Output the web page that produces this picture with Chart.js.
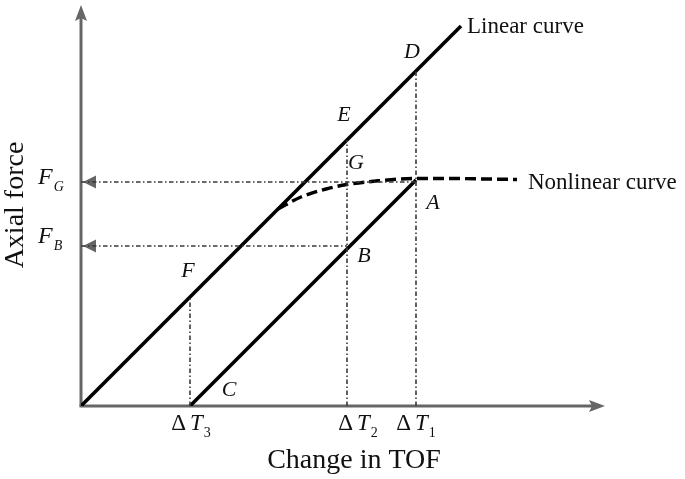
<!DOCTYPE html>
<html><head><meta charset="utf-8">
<script src="https://cdn.jsdelivr.net/npm/chart.js@4.4.0/dist/chart.umd.min.js"></script>
<style>html,body{margin:0;padding:0;background:#fff;}canvas{display:block;}</style>
</head><body>
<canvas id="c" width="685" height="479"></canvas>
<script>
// ---- data ----
const tickLabels = ['3', '2', '1'];          // subscripts of ΔT
const tickValues = [10.9, 26.6, 33.5];       // ΔT3, ΔT2, ΔT1
const forceLabels = ['G', 'B'];              // subscripts of F
const forceValues = [22.4, 16.0];            // F_G, F_B
const linearX = [0, 38];
const linearY = [0, 38];
const shiftedX = [10.9, 33.5];
const shiftedY = [0, 22.6];
const nonlinearX = [19.7, 22.0, 24.5, 26.6, 29.5, 33.5, 37.0, 40.5, 43.6];
const nonlinearY = [19.7, 20.9, 21.7, 22.15, 22.5, 22.75, 22.75, 22.7, 22.65];
const pointLabels = ['D', 'E', 'G', 'A', 'B', 'F', 'C'];
const pointX = [33.5, 26.6, 26.6, 33.5, 26.6, 10.9, 10.9];
const pointY = [33.5, 26.6, 22.4, 22.6, 16.0, 10.9, 0];
const xMax = 52.4, yMax = 40.1;

const zip = (xs, ys) => xs.map((x, i) => ({x, y: ys[i]}));
const guideColor = '#3a3a3a';
const dashDot = [4.5, 2.5, 1.5, 2.5];
const guides = [];
tickValues.forEach((t, i) => {
  guides.push({data: [{x: t, y: 0}, {x: t, y: linearY[1] * t / linearX[1]}], borderColor: guideColor, borderWidth: 1.6, borderDash: dashDot, pointRadius: 0, showLine: true});
});
forceValues.forEach((f, i) => {
  const xEnd = i === 0 ? tickValues[2] : tickValues[1];
  guides.push({data: [{x: 0, y: f}, {x: xEnd, y: f}], borderColor: guideColor, borderWidth: 1.6, borderDash: dashDot, pointRadius: 0, showLine: true});
});

const serif = '"Liberation Serif", "Times New Roman", serif';

function drawParts(ctx, parts, x, y, align) {
  let total = 0;
  parts.forEach(p => { ctx.font = p.font; p.w = ctx.measureText(p.t).width; total += p.w + (p.gap || 0); });
  let cx = align === 'center' ? x - total / 2 : (align === 'right' ? x - total : x);
  ctx.textBaseline = 'middle'; ctx.textAlign = 'left';
  parts.forEach(p => { ctx.font = p.font; ctx.fillText(p.t, cx, y + (p.dy || 0)); cx += p.w + (p.gap || 0); });
}

const decor = {
  id: 'decor',
  beforeDatasetsDraw(chart) {
    const ctx = chart.ctx, xs = chart.scales.x, ys = chart.scales.y;
    const x0 = xs.getPixelForValue(0), y0 = ys.getPixelForValue(0);
    const xe = xs.getPixelForValue(xMax), ye = ys.getPixelForValue(yMax);
    ctx.save();
    ctx.strokeStyle = '#666'; ctx.fillStyle = '#666'; ctx.lineWidth = 3;
    ctx.beginPath(); ctx.moveTo(x0, y0); ctx.lineTo(x0, ye + 10); ctx.stroke();
    ctx.beginPath(); ctx.moveTo(x0 - 1.5, y0); ctx.lineTo(xe - 10, y0); ctx.stroke();
    ctx.beginPath(); ctx.moveTo(x0, ye); ctx.lineTo(x0 - 6, ye + 16); ctx.lineTo(x0, ye + 13); ctx.lineTo(x0 + 6, ye + 16); ctx.closePath(); ctx.fill();
    ctx.beginPath(); ctx.moveTo(xe, y0); ctx.lineTo(xe - 16, y0 - 6); ctx.lineTo(xe - 13, y0); ctx.lineTo(xe - 16, y0 + 6); ctx.closePath(); ctx.fill();
    forceValues.forEach(f => {
      const py = ys.getPixelForValue(f);
      ctx.beginPath(); ctx.moveTo(x0 + 2, py); ctx.lineTo(x0 + 15, py - 6.5); ctx.lineTo(x0 + 15, py + 6.5); ctx.closePath(); ctx.fill();
    });
    ctx.restore();
  },
  afterDraw(chart) {
    const ctx = chart.ctx, xs = chart.scales.x, ys = chart.scales.y;
    ctx.save();
    ctx.fillStyle = '#111';
    const tickOffs = [1, 11, 0];
    tickValues.forEach((t, i) => {
      const px = xs.getPixelForValue(t) + tickOffs[i];
      drawParts(ctx, [
        {t: 'Δ', font: '23px ' + serif, gap: 4},
        {t: 'T', font: 'italic 23px ' + serif, gap: 1},
        {t: tickLabels[i], font: '14px ' + serif, dy: 9}
      ], px, 424, 'center');
    });
    const fOffs = [-4, -9];
    forceValues.forEach((f, i) => {
      const py = ys.getPixelForValue(f);
      drawParts(ctx, [
        {t: 'F', font: 'italic 24px ' + serif, gap: 1},
        {t: forceLabels[i], font: 'italic 14px ' + serif, dy: 9}
      ], 38, py + fOffs[i], 'left');
    });
    const offs = [[-4, -19], [-3, -25], [9, -19], [17, 23], [17, 10], [-2, -26], [39, -16]];
    pointLabels.forEach((l, i) => {
      const px = xs.getPixelForValue(pointX[i]) + offs[i][0];
      const py = ys.getPixelForValue(pointY[i]) + offs[i][1];
      ctx.font = 'italic 22px ' + serif; ctx.textAlign = 'center'; ctx.textBaseline = 'middle';
      ctx.fillText(l, px, py);
    });
    ctx.font = '23px ' + serif; ctx.textAlign = 'left'; ctx.textBaseline = 'middle';
    ctx.fillText('Linear curve', xs.getPixelForValue(linearX[1]) + 6, ys.getPixelForValue(linearY[1]) + 1);
    const nl = nonlinearX.length - 1;
    ctx.fillText('Nonlinear curve', xs.getPixelForValue(nonlinearX[nl]) + 11, ys.getPixelForValue(nonlinearY[nl]) + 3);
    ctx.font = '28px ' + serif; ctx.textAlign = 'center'; ctx.textBaseline = 'middle';
    ctx.fillText('Change in TOF', 354, 461);
    ctx.translate(16, 205); ctx.rotate(-Math.PI / 2);
    ctx.fillText('Axial force', 0, 0);
    ctx.restore();
  }
};

new Chart(document.getElementById('c'), {
  type: 'scatter',
  data: {
    datasets: [
      ...guides,
      {data: zip(linearX, linearY), borderColor: '#000', borderWidth: 3.5, pointRadius: 0, showLine: true},
      {data: zip(shiftedX, shiftedY), borderColor: '#000', borderWidth: 3.5, pointRadius: 0, showLine: true},
      {data: zip(nonlinearX, nonlinearY), borderColor: '#000', borderWidth: 3.5, borderDash: [11, 5], pointRadius: 0, showLine: true, tension: 0.4, cubicInterpolationMode: 'monotone'}
    ]
  },
  options: {
    responsive: false, animation: false,
    layout: {padding: {left: 81, right: 80, top: 5, bottom: 73}},
    plugins: {legend: {display: false}, tooltip: {enabled: false}},
    scales: {
      x: {type: 'linear', min: 0, max: xMax, display: false},
      y: {type: 'linear', min: 0, max: yMax, display: false}
    }
  },
  plugins: [decor]
});
</script>
</body></html>
